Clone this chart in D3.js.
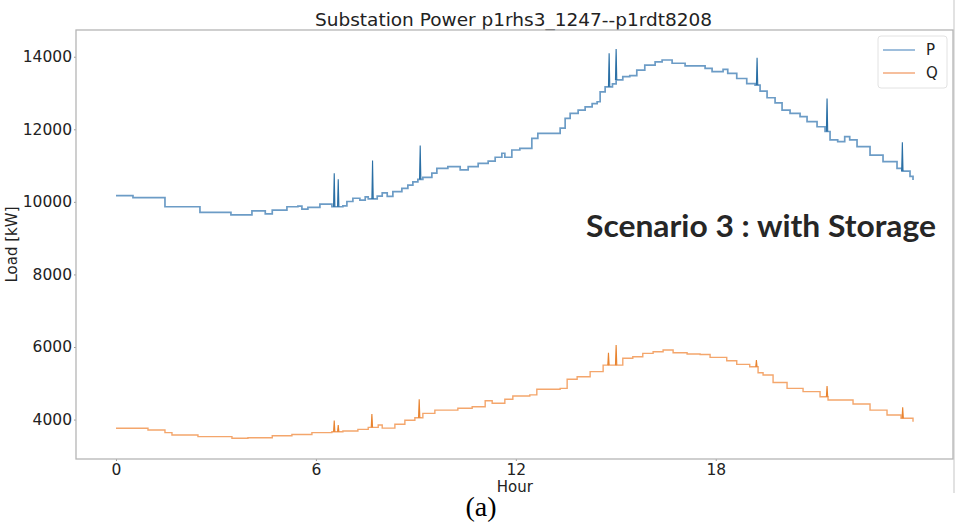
<!DOCTYPE html>
<html>
<head>
<meta charset="utf-8">
<script src="https://cdn.jsdelivr.net/npm/d3@7"></script>
<style>
  html, body { margin: 0; padding: 0; background: #fff; }
  svg { display: block; }
</style>
</head>
<body>
<svg id="chart" width="959" height="523"></svg>
<script>
// ---- data ----
const pHours = [0, 0.51, 1.47, 2.52, 3.45, 4.08, 4.48, 4.69, 5.13, 5.46, 5.58, 5.76, 6.12, 6.48, 6.81, 6.93, 7.11, 7.32, 7.48, 7.57, 7.84, 7.99, 8.14, 8.31, 8.58, 8.76, 8.91, 9.06, 9.21, 9.48, 9.63, 9.96, 10.33, 10.57, 10.87, 11.17, 11.38, 11.58, 11.67, 11.88, 12.12, 12.48, 12.66, 13.33, 13.48, 13.63, 13.87, 14.08, 14.29, 14.44, 14.53, 14.68, 14.90, 15.01, 15.21, 15.42, 15.63, 15.87, 16.18, 16.39, 16.69, 17.08, 17.44, 17.68, 17.89, 18.22, 18.36, 18.63, 18.93, 19.18, 19.33, 19.54, 19.78, 19.99, 20.23, 20.53, 20.74, 21.04, 21.28, 21.43, 21.66, 21.87, 22.02, 22.24, 22.63, 23.02, 23.44, 23.59, 23.83, 23.92];
const pValues = [10170, 10115, 9866, 9710, 9640, 9750, 9667, 9775, 9866, 9885, 9800, 9850, 9940, 9866, 9890, 10010, 10100, 10050, 10140, 10080, 10160, 10250, 10150, 10280, 10370, 10460, 10550, 10620, 10675, 10790, 10925, 10970, 10880, 10970, 11060, 11125, 11230, 11340, 11230, 11430, 11475, 11750, 11890, 12030, 12300, 12440, 12530, 12620, 12710, 12760, 13030, 13170, 13250, 13360, 13450, 13480, 13630, 13770, 13860, 13910, 13820, 13750, 13750, 13680, 13590, 13650, 13540, 13400, 13260, 13220, 13050, 12870, 12730, 12530, 12440, 12350, 12210, 12070, 11940, 11710, 11660, 11800, 11710, 11520, 11290, 11110, 10925, 10850, 10700, 10600];
const pSpikeHours = [6.55, 6.67, 7.70, 9.13, 14.80, 15.01, 19.24, 21.34, 23.60];
const pSpikePeaks = [10787, 10622, 11140, 11550, 14095, 14210, 13970, 12850, 11640];

const qHours = [0, 0.96, 1.47, 1.68, 2.46, 3.48, 3.96, 4.69, 5.28, 5.88, 6.48, 6.81, 7.26, 7.57, 7.87, 7.99, 8.37, 8.67, 8.97, 9.21, 9.57, 10.26, 10.69, 11.08, 11.29, 11.67, 11.91, 12.42, 12.63, 13.33, 13.54, 13.84, 14.23, 14.62, 15.21, 15.51, 15.81, 16.12, 16.42, 16.72, 17.14, 17.53, 17.83, 18.33, 18.63, 19.02, 19.27, 19.42, 19.72, 20.14, 20.62, 21.13, 21.37, 22.12, 22.63, 23.14, 23.56, 23.92];
const qValues = [3760, 3713, 3640, 3575, 3530, 3485, 3500, 3555, 3590, 3640, 3665, 3685, 3730, 3785, 3850, 3765, 3870, 3980, 4050, 4170, 4260, 4310, 4355, 4520, 4450, 4560, 4650, 4680, 4835, 4860, 5110, 5180, 5320, 5500, 5690, 5730, 5825, 5870, 5917, 5840, 5805, 5795, 5715, 5620, 5520, 5455, 5290, 5230, 5020, 4860, 4770, 4630, 4540, 4430, 4260, 4125, 4035, 3940];
const qSpikeHours = [6.55, 6.67, 7.68, 9.10, 14.78, 15.01, 19.22, 21.34, 23.61];
const qSpikePeaks = [3970, 3850, 4153, 4558, 5840, 6055, 5640, 4925, 4340];

const xTicks = [0, 6, 12, 18];
const yTicks = [4000, 6000, 8000, 10000, 12000, 14000];
const seriesNames = ["P", "Q"];
const titleText = "Substation Power p1rhs3_1247--p1rdt8208";
const xLabel = "Hour";
const yLabel = "Load [kW]";
const annotation = "Scenario 3 : with Storage";
const caption = "(a)";

// ---- layout ----
const svg = d3.select("#chart");
const L = 76, R = 953, T = 30, B = 459;
const x = d3.scaleLinear().domain([-1.2, 25.12]).range([L, R]);
const y = d3.scaleLinear().domain([2913, 14737]).range([B, T]);

const font = "'DejaVu Sans', sans-serif";
const pColor = "#6c9cc6", pSpike = "#2a6fa5";
const qColor = "#f4a66c", qSpike = "#e8832f";

function zip(h, v) { const n = Math.min(h.length, v.length); return d3.range(n).map(i => [h[i], v[i]]); }
function stepValue(h, v, t) { let r = v[0]; for (let i = 0; i < h.length; i++) { if (h[i] <= t) r = v[i]; } return r; }

// figure border on right
svg.append("line").attr("x1", 954).attr("x2", 954).attr("y1", 0).attr("y2", 493)
  .attr("stroke", "#cfcfcf").attr("stroke-width", 1.2);

// title
svg.append("text").attr("x", (L + R) / 2 - 1).attr("y", 26).attr("text-anchor", "middle")
  .attr("font-family", font).attr("font-size", 18.5).attr("fill", "#222").text(titleText);

// axes
const gx = svg.append("g").attr("transform", `translate(0,${B})`)
  .call(d3.axisBottom(x).tickValues(xTicks).tickSize(2).tickPadding(3).tickFormat(d3.format("d")));
const gy = svg.append("g").attr("transform", `translate(${L},0)`)
  .call(d3.axisLeft(y).tickValues(yTicks).tickSize(2).tickPadding(2).tickFormat(d3.format("d")));
[gx, gy].forEach(g => {
  g.select(".domain").remove();
  g.selectAll(".tick line").attr("stroke", "#999");
  g.selectAll(".tick text").attr("font-family", font).attr("font-size", 15.5).attr("fill", "#222");
});

// lines
const line = d3.line().x(d => x(d[0])).y(d => y(d[1])).curve(d3.curveStepAfter);
svg.append("path").datum(zip(pHours, pValues)).attr("d", line)
  .attr("fill", "none").attr("stroke", pColor).attr("stroke-width", 1.7);
svg.append("path").datum(zip(qHours, qValues)).attr("d", line)
  .attr("fill", "none").attr("stroke", qColor).attr("stroke-width", 1.4);

// spikes
const spikeLine = d3.line().x(d => x(d[0])).y(d => y(d[1]));
function drawSpikes(hs, peaks, baseH, baseV, color) {
  const n = Math.min(hs.length, peaks.length);
  for (let i = 0; i < n; i++) {
    const h = hs[i], base = stepValue(baseH, baseV, h);
    const pts = [[h - 0.02, base], [h, peaks[i]], [h + 0.02, base]];
    svg.append("path").attr("d", spikeLine(pts)).attr("fill", color).attr("fill-opacity", 0.6)
      .attr("stroke", color).attr("stroke-width", 1.1);
  }
}
drawSpikes(pSpikeHours, pSpikePeaks, pHours, pValues, pSpike);
drawSpikes(qSpikeHours, qSpikePeaks, qHours, qValues, qSpike);

// frame
svg.append("rect").attr("x", L).attr("y", T).attr("width", R - L).attr("height", B - T)
  .attr("fill", "none").attr("stroke", "#b5b5b5").attr("stroke-width", 1.3);

// axis labels
svg.append("text").attr("x", x(12) - 1).attr("y", 492).attr("text-anchor", "middle")
  .attr("font-family", font).attr("font-size", 15).attr("fill", "#222").text(xLabel);
svg.append("text").attr("transform", `translate(17,${(T + B) / 2}) rotate(-90)`).attr("text-anchor", "middle")
  .attr("font-family", font).attr("font-size", 15).attr("fill", "#222").text(yLabel);

// legend
const lg = svg.append("g");
lg.append("rect").attr("x", 878).attr("y", 36).attr("width", 69).attr("height", 52).attr("rx", 3)
  .attr("fill", "#fff").attr("stroke", "#e2e2e2");
const legColors = ["#86aed3", "#f4b085"];
seriesNames.forEach((s, i) => {
  const ly = 50 + i * 23;
  lg.append("line").attr("x1", 883).attr("x2", 915).attr("y1", ly).attr("y2", ly)
    .attr("stroke", legColors[i]).attr("stroke-width", 1.6);
  lg.append("text").attr("x", 926).attr("y", ly + 5).attr("font-family", font).attr("font-size", 15)
    .attr("fill", "#222").text(s);
});

// annotation
svg.append("text").attr("x", 586).attr("y", 237).attr("font-family", "Lato, 'Open Sans', sans-serif")
  .attr("font-weight", 700).attr("font-size", 31).attr("fill", "#262626")
  .attr("textLength", 350).attr("lengthAdjust", "spacingAndGlyphs").text(annotation);

// caption
svg.append("text").attr("x", 481).attr("y", 516).attr("text-anchor", "middle")
  .attr("font-family", "'Liberation Serif', 'Times New Roman', serif").attr("font-size", 28)
  .attr("fill", "#000").text(caption);
</script>
</body>
</html>
